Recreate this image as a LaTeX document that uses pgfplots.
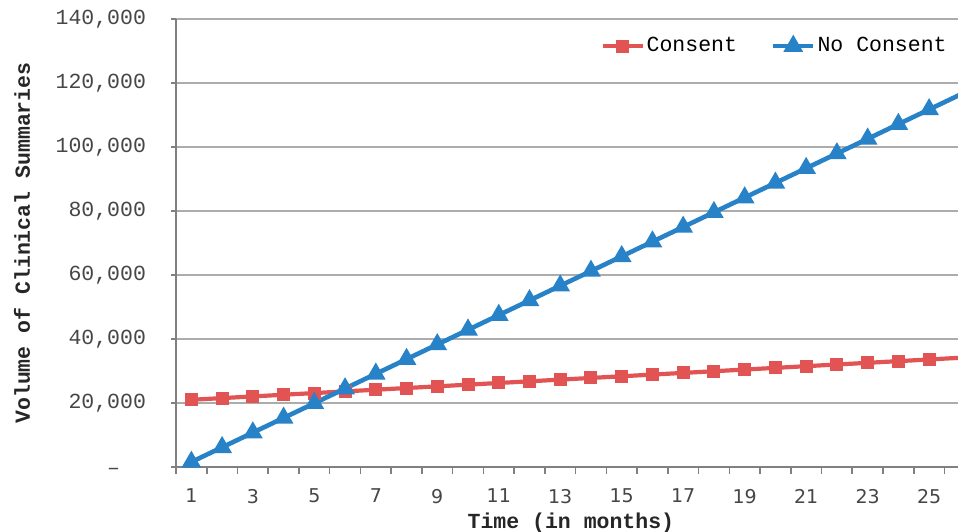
\documentclass[border=0pt]{standalone}
\usepackage{fontspec}
\setmainfont{Liberation Mono}
\newfontfamily\xfont{DejaVu Sans}
\usepackage{pgfplots}
\pgfplotsset{compat=1.18}

\definecolor{consentred}{RGB}{226,83,83}
\definecolor{noconsentblue}{RGB}{40,130,200}
\definecolor{gridgray}{RGB}{172,172,172}
\definecolor{axisgray}{RGB}{128,128,128}
\definecolor{labelgray}{RGB}{70,70,70}

\begin{document}
\begin{tikzpicture}
\begin{axis}[
  scale only axis,
  width=391pt, height=224pt,
  xmin=0.5, xmax=25.94,
  ymin=0, ymax=140000,
  axis lines*=left,
  axis line style={draw=axisgray, line width=1pt, -},
  tick align=outside,
  xtick={1,3,...,25},
  minor xtick={0.5,1.5,...,25.5},
  major x tick style={draw=none},
  minor x tick style={draw=axisgray, line width=0.8pt},
  minor tick length=3.5pt,
  ytick={0,20000,...,140000},
  scaled y ticks=false,
  yticklabels={{–\phantom{00}},{20,000},{40,000},{60,000},{80,000},{100,000},{120,000},{140,000}},
  major tick length=2.5pt,
  ytick style={draw=axisgray, line width=0.8pt},
  ymajorgrids,
  y grid style={draw=gridgray, line width=0.8pt},
  /pgf/number format/assume math mode=true,
  xticklabel style={font=\xfont\fontsize{9.5}{11}\selectfont, text=labelgray, yshift=-5pt},
  yticklabel style={font=\fontsize{10.75}{12}\selectfont, text=labelgray, xshift=-9pt},
  xlabel={\bfseries Time (in months)},
  ylabel={\bfseries Volume of Clinical Summaries},
  label style={font=\fontsize{10.75}{12}\selectfont, text=black!85},
  xlabel style={at={(axis description cs:0.505,-0.126)}, anchor=center},
  ylabel style={at={(axis description cs:-0.197,0.5)}, anchor=center},
  legend columns=2,
  legend style={
    draw=none, fill=none,
    at={(axis description cs:1,1)}, anchor=north east,
    xshift=-1.5pt, yshift=-6pt,
    font=\fontsize{10.75}{12}\selectfont,
    nodes={inner sep=1pt},
    /tikz/every even column/.append style={column sep=16pt}
  },
  legend image code/.code={
    \draw[#1, mark repeat=2, mark phase=2] plot coordinates {(0pt,0pt) (10pt,0pt) (20pt,0pt)};
  },
]
\addplot[color=consentred, line width=2.1pt, mark=square*, mark size=2.2pt, mark options={solid}]
coordinates {
(1,21000) (2,21525) (3,22050) (4,22575) (5,23100) (6,23625) (7,24150)
(8,24675) (9,25200) (10,25725) (11,26250) (12,26775) (13,27300) (14,27825)
(15,28350) (16,28875) (17,29400) (18,29925) (19,30450) (20,30975) (21,31500)
(22,32025) (23,32550) (24,33075) (25,33600) (26,34125)
};
\addlegendentry{Consent}
\addplot[color=noconsentblue, line width=2.3pt, mark=triangle*, mark size=3.4pt, mark options={solid}]
coordinates {
(1,1560) (2,6150) (3,10740) (4,15330) (5,19920) (6,24510) (7,29100)
(8,33690) (9,38280) (10,42870) (11,47460) (12,52050) (13,56640) (14,61230)
(15,65820) (16,70410) (17,75000) (18,79590) (19,84180) (20,88770) (21,93360)
(22,97950) (23,102540) (24,107130) (25,111720) (26,116310)
};
\addlegendentry{No Consent}
\coordinate (ll) at (rel axis cs:0,0);
\coordinate (ur) at (rel axis cs:1,1);
\end{axis}
\pgfresetboundingbox
\path[use as bounding box] ([xshift=-88pt,yshift=-32.5pt]ll) rectangle ([yshift=9.5pt]ur);
\end{tikzpicture}
\end{document}
